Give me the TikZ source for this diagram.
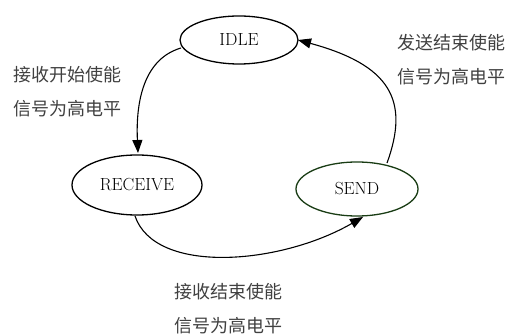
\documentclass[tikz,border=0pt]{standalone}
\usepackage{fontspec}
\usetikzlibrary{shapes.geometric,arrows.meta}
\newfontfamily\cjk{Noto Sans CJK SC}
\definecolor{sendgreen}{RGB}{25,60,20}
\definecolor{labelgray}{RGB}{64,64,64}
\begin{document}
\begin{tikzpicture}[x=1pt,y=-1pt,
  state/.style={ellipse,draw=black,line width=1.3pt,inner sep=0pt,font=\fontsize{17.5}{20}\selectfont},
  edge/.style={line width=1.1pt,-{Triangle[length=13pt,width=10pt]}},
  lbl/.style={align=center,text=labelgray,font=\cjk\fontsize{18}{34}\selectfont,inner sep=0pt}]
\useasboundingbox (0,0) rectangle (518,336);
\node[state,minimum width=118pt,minimum height=48pt] (idle) at (239,40) {IDLE};
\node[state,minimum width=130pt,minimum height=60pt] (receive) at (137,185) {RECEIVE};
\node[state,draw=sendgreen,minimum width=122pt,minimum height=54pt] (send) at (357,189) {SEND};
\coordinate (i1) at (181,48);
\coordinate (i2) at (298,40);
\coordinate (r1) at (138,153);
\coordinate (r2) at (135,216);
\coordinate (s1) at (387,163);
\coordinate (s2) at (363,217);
\draw[edge] (i1) .. controls (140,60) and (136,110) .. (r1);
\draw[edge] (r2) .. controls (155,275) and (280,265) .. (s2);
\draw[edge] (s1) .. controls (410,100) and (390,65) .. (i2);
\node[lbl] (l1) at (67,92) {接收开始使能\\信号为高电平};
\node[lbl] (l2) at (451,60) {发送结束使能\\信号为高电平};
\node[lbl] (l3) at (228,309) {接收结束使能\\信号为高电平};
\end{tikzpicture}
\end{document}
